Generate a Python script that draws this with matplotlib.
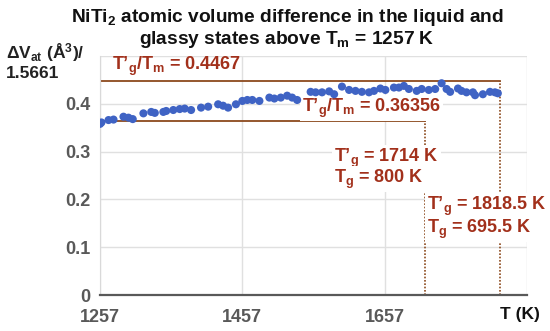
import matplotlib
matplotlib.use("Agg")
import matplotlib.pyplot as plt

plt.rcParams['font.family'] = ['Liberation Sans', 'DejaVu Sans']
plt.rcParams['font.weight'] = 'bold'
plt.rcParams['mathtext.fontset'] = 'custom'
plt.rcParams['mathtext.rm'] = 'Liberation Sans:bold'
plt.rcParams['mathtext.it'] = 'Liberation Sans:bold'
plt.rcParams['mathtext.bf'] = 'Liberation Sans:bold'

# Data (temperature K, normalized atomic volume difference)
T = [1257, 1259, 1269, 1276, 1290, 1297, 1303, 1318, 1329, 1334, 1346, 1350, 1360,
     1369, 1376, 1385, 1399, 1409, 1423, 1430, 1437, 1448, 1457, 1464, 1471, 1481,
     1495, 1502, 1511, 1520, 1527, 1534, 1553, 1560, 1569, 1579, 1586, 1597, 1607,
     1616, 1625, 1635, 1642, 1651, 1658, 1670, 1677, 1684, 1691, 1702, 1709, 1719,
     1728, 1737, 1744, 1749, 1760, 1765, 1772, 1781, 1784, 1795, 1805, 1812, 1816]
dV = [0.358, 0.361, 0.366, 0.367, 0.373, 0.371, 0.368, 0.380, 0.383, 0.381, 0.383,
      0.385, 0.387, 0.389, 0.390, 0.387, 0.392, 0.394, 0.399, 0.396, 0.392, 0.399,
      0.406, 0.408, 0.408, 0.406, 0.413, 0.411, 0.413, 0.417, 0.413, 0.408, 0.425,
      0.424, 0.424, 0.426, 0.420, 0.436, 0.429, 0.427, 0.425, 0.424, 0.427, 0.432,
      0.429, 0.434, 0.434, 0.4375, 0.431, 0.427, 0.431, 0.429, 0.431, 0.443, 0.431,
      0.425, 0.432, 0.427, 0.424, 0.424, 0.418, 0.420, 0.425, 0.424, 0.422]

Tm = 1257
ratio1 = 0.4467
ratio2 = 0.36356
Tg1 = 1818.5
Tg2 = 1714
xticks = [1257, 1457, 1657]
yticks = [0, 0.1, 0.2, 0.3, 0.4, 0.5]
ytick_labels = ['0', '0.1', '0.2', '0.3', '0.4', '']

brown = '#8C4A1E'
red = '#A2301B'
gray = '#595959'

fig = plt.figure(figsize=(5.5, 3.31), dpi=100)
ax = fig.add_axes([100/550, 36/331, 427/550, 239/331])
ax.set_xlim(1257, 1857)
ax.set_ylim(0, 0.5)
ax.set_xticks(xticks + [1857])
ax.set_xticklabels([str(t) for t in xticks] + [''])
ax.set_yticks(yticks)
ax.set_yticklabels(ytick_labels)
ax.grid(True, color='#E0E0E0', lw=1)
ax.set_axisbelow(True)
for s in ['top', 'right']:
    ax.spines[s].set_visible(False)
ax.spines['left'].set_color('#D9D9D9')
ax.spines['bottom'].set_color(gray)
ax.spines['bottom'].set_linewidth(1.6)
ax.tick_params(axis='x', length=0, labelsize=13, labelcolor=gray, pad=10)
ax.tick_params(axis='y', length=0, labelsize=13, labelcolor=gray, pad=7)
for lab in ax.get_xticklabels() + ax.get_yticklabels():
    lab.set_fontweight('bold')

ax.plot([Tm, Tg1], [ratio1, ratio1], color=brown, lw=1.3, zorder=2)
ax.plot([Tm, Tg2], [ratio2, ratio2], color=brown, lw=1.3, zorder=2)
ax.plot([Tg1, Tg1], [0, ratio1], color=brown, lw=1.2, ls=(0, (1, 1)), zorder=2)
ax.plot([Tg2, Tg2], [0, ratio2], color=brown, lw=1.2, ls=(0, (1, 1)), zorder=2)

box = dict(boxstyle='square,pad=0.1', fc='white', ec='none')

def ft(x, y, s, bg=True):
    ax.text(x/550, 1 - y/331, s, transform=fig.transFigure, fontsize=13, color=red,
            fontweight='bold', va='center', ha='left', zorder=3,
            bbox=box if bg else None)

ft(112, 66, "T’$_g$/T$_m$ = 0.4467", bg=False)
ft(302, 108, "T’$_g$/T$_m$ = 0.36356")
ft(334, 158, "T’$_g$ = 1714 K")
ft(334, 179, "T$_g$ = 800 K")
ft(427, 206, "T’$_g$ = 1818.5 K")
ft(427, 229, "T$_g$ = 695.5 K")

ax.scatter(T, dV, s=34, color='#3F63C4', zorder=4, edgecolors='none')

fig.text(6/550, 1 - 53/331, "ΔV$_{at}$ (Å$^3$)/", fontsize=12.5, color='#222222',
         fontweight='bold', va='center', ha='left')
fig.text(6/550, 1 - 73/331, "1.5661", fontsize=12.5, color='#222222',
         fontweight='bold', va='center', ha='left')
fig.text(520/550, 1 - 315/331, "T (K)", fontsize=12.5, color='#111111',
         fontweight='bold', va='center', ha='center')

fig.text(287/550, 1 - 18/331, "NiTi$_2$ atomic volume difference in the liquid and",
         fontsize=13.8, color='#111111', fontweight='bold', va='center', ha='center')
fig.text(287/550, 1 - 40/331, "glassy states above T$_m$ = 1257 K",
         fontsize=13.8, color='#111111', fontweight='bold', va='center', ha='center')

fig.savefig('out.png', dpi=100)
